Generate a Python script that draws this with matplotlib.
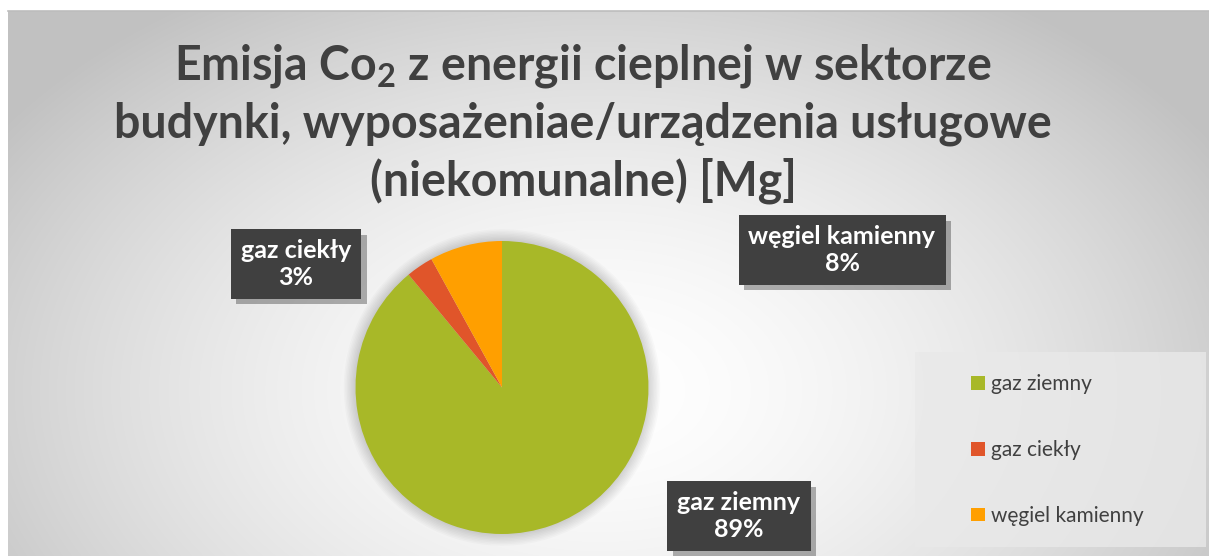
import numpy as np
import matplotlib
matplotlib.use("Agg")
import matplotlib.pyplot as plt
from matplotlib.patches import Rectangle, Circle
import matplotlib.patheffects as pe

# dane
kategorie = ["gaz ziemny", "gaz ciekły", "węgiel kamienny"]
udzialy = [89, 3, 8]
kolory = ["#A8B828", "#E0552A", "#FF9F00"]
tytul = ["Emisja Co$_2$ z energii cieplnej w sektorze",
         "budynki, wyposażeniae/urządzenia usługowe",
         "(niekomunalne) [Mg]"]

W, H = 1209, 556
plt.rcParams["font.family"] = ["Lato", "DejaVu Sans"]
plt.rcParams["mathtext.fontset"] = "custom"
plt.rcParams["mathtext.rm"] = "Lato:bold"
plt.rcParams["mathtext.it"] = "Lato:bold"
plt.rcParams["mathtext.bf"] = "Lato:bold"


def fx(x):
    return x / W


def fy(y):
    return 1 - y / H


fig = plt.figure(figsize=(W / 100, H / 100), dpi=100)
fig.patch.set_facecolor("white")

# tlo z gradientem
bg = fig.add_axes([fx(8), 0, 1 - fx(8), fy(11)])
bg.set_axis_off()
yy, xx = np.mgrid[11:H, 8:W]
d = np.sqrt(((xx - 600) / 720.0) ** 2 + ((yy - 390) / 470.0) ** 2)
t = np.clip(d, 0, 1) ** 1.6
g = 1.0 - t * 0.24
bg.imshow(np.dstack([g, g, g]), aspect="auto", extent=[0, 1, 0, 1])
bg.set_xlim(0, 1)
bg.set_ylim(0, 1)
fig.add_artist(plt.Line2D([fx(8), 1], [fy(11), fy(11)], color="#bdbdbd", lw=1.2))

# tytul
for linia, base in zip(tytul, [79, 138, 196]):
    fig.text(fx(583), fy(base), linia, ha="center", va="baseline",
             fontsize=33.5, fontweight="bold", color="#404040")

# wykres kolowy
cx, cy, r = 502, 387.5, 146.5
ax = fig.add_axes([fx(cx - r), fy(cy + r), 2 * r / W, 2 * r / H])
for k in range(8):
    ax.add_patch(Circle((0, 0), 1.0 + 0.01 * (k + 1), color="#000000",
                        alpha=0.02, lw=0, zorder=0, clip_on=False))
wedges, _ = ax.pie(udzialy, colors=kolory, startangle=90, counterclock=False,
                   wedgeprops=dict(linewidth=0))
ax.set_xlim(-1, 1)
ax.set_ylim(-1, 1)
ax.set_aspect("auto")


def etykieta(x, y, tekst):
    txt = fig.text(fx(x), fy(y), tekst, ha="center", va="center",
                   fontsize=18, fontweight="bold", color="white",
                   linespacing=1.2,
                   bbox=dict(boxstyle="square,pad=0.4", facecolor="#404040",
                             edgecolor="none", linewidth=0))
    txt.get_bbox_patch().set_path_effects([
        pe.SimplePatchShadow(offset=(4, -4), shadow_rgbFace="#000000", alpha=0.3),
        pe.Normal()])
    return txt


procenty = [f"{k}\n{p}%" for k, p in zip(kategorie, udzialy)]
etykieta(739, 516, procenty[0])
etykieta(296, 264, procenty[1])
etykieta(842, 250, procenty[2])

# legenda
fig.add_artist(Rectangle((fx(915), fy(547)), fx(1206) - fx(915), fy(352) - fy(547),
                         transform=fig.transFigure, facecolor="#e9e9e9",
                         edgecolor="none", alpha=0.8))
fig.legend(wedges, kategorie, loc="center left",
           bbox_to_anchor=(fx(961), fy(450)), frameon=False,
           fontsize=15, labelcolor="#404040", handlelength=0.65,
           handleheight=0.65, handletextpad=0.3, labelspacing=2.2,
           borderpad=0)

fig.savefig("out.png", dpi=100)
